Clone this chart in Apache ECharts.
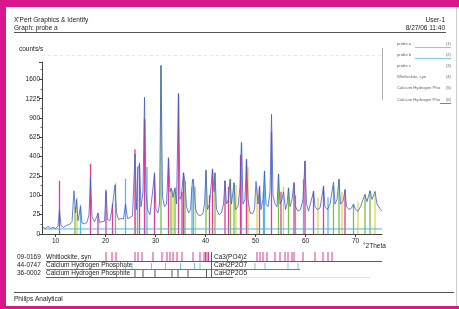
<!DOCTYPE html>
<html>
<head>
<meta charset="utf-8">
<script src="https://cdn.jsdelivr.net/npm/echarts@6/dist/echarts.min.js"></script>
<style>
  html, body { margin: 0; padding: 0; background: #fff; }
  #chart { width: 459px; height: 309px; }
</style>
</head>
<body>
<div id="chart"></div>
<script>
// ── Data (2theta in degrees, intensity in counts/s) ──────────
var yTickValues = [0, 25, 100, 225, 400, 625, 900, 1225, 1600];
var xTickValues = [10, 20, 30, 40, 50, 60, 70];

// measured pattern (blue trace)
var trace = [
  [7.5,3],[8.0,2],[8.5,4],[9.0,2],[9.5,3],[10.0,2],[10.5,4],[10.8,40],[11.1,5],[11.6,3],
  [12.2,5],[12.8,6],[13.3,10],[13.7,125],[14.0,30],[14.2,80],[14.5,12],[15.0,50],[15.3,8],
  [15.8,7],[16.3,9],[16.7,25],[17.0,214],[17.3,20],[17.8,10],[18.2,9],[18.5,28],[18.8,9],
  [19.3,10],[19.8,11],[20.1,120],[20.4,14],[20.9,12],[21.4,55],[21.9,160],[22.2,30],[22.6,14],
  [23.1,16],[23.6,15],[24.0,60],[24.4,16],[24.9,18],[25.4,22],[25.9,430],[26.2,40],[26.5,300],
  [26.8,320],[27.1,50],[27.5,120],[27.8,1250],[28.1,120],[28.4,40],[28.9,25],[29.3,30],
  [29.8,240],[30.1,40],[30.5,30],[30.8,60],[31.1,1900],[31.4,90],[31.8,50],[32.2,60],[32.6,380],
  [32.9,120],[33.2,140],[33.5,90],[33.9,140],[34.2,60],[34.6,1320],[34.9,80],[35.2,100],
  [35.6,250],[35.9,180],[36.2,50],[36.6,30],[37.0,40],[37.4,200],[37.7,150],[38.0,40],[38.5,25],
  [39.0,22],[39.5,30],[39.8,60],[40.1,270],[40.4,40],[40.8,60],[41.4,280],[41.7,120],[41.9,250],
  [42.2,40],[42.7,25],[43.2,30],[43.6,60],[43.9,190],[44.2,60],[44.6,80],[44.9,200],[45.2,60],
  [45.7,175],[46.0,40],[46.5,50],[46.9,150],[47.2,560],[47.5,60],[47.9,80],[48.2,370],[48.5,80],
  [48.9,30],[49.4,28],[49.8,40],[50.1,185],[50.5,60],[50.8,150],[51.1,40],[51.5,80],[51.8,265],
  [52.1,60],[52.5,50],[52.9,120],[53.2,960],[53.5,100],[53.9,60],[54.3,50],[54.6,240],[54.9,60],
  [55.3,80],[55.6,120],[56.0,40],[56.3,60],[56.6,140],[56.9,50],[57.3,80],[57.7,175],[58.0,50],
  [58.5,35],[59.0,40],[59.5,80],[59.9,355],[60.2,60],[60.6,35],[61.0,40],[61.6,120],[61.9,50],
  [62.4,40],[62.9,45],[63.6,150],[63.9,50],[64.4,40],[64.9,60],[65.6,180],[65.9,60],[66.3,80],
  [66.7,200],[67.0,60],[67.5,70],[67.9,130],[68.2,50],[68.7,40],[69.2,45],[69.6,60],[70.0,40],
  [70.5,35],[71.0,50],[71.5,80],[71.9,105],[72.3,70],[72.9,125],[73.3,80],[73.9,120],[74.3,60],
  [74.8,45],[75.3,35]
];

// reference sticks drawn in the plot, by colour
var pinkSticks = [
  [10.8,190],[17.0,330],[18.5,30],[20.1,131],[21.4,62],[25.9,480],[26.8,340],[27.8,890],
  [29.8,253],[32.6,392],[34.6,1320],[35.3,120],[35.6,253],[40.8,100],[41.4,285],[43.9,190],
  [44.6,150],[47.0,420],[48.2,376],[50.8,155],[53.2,700],[55.1,120],[57.7,178],[59.9,360],
  [61.6,125],[63.6,155],[67.9,134]
];
var greenSticks = [
  [13.9,50],[22.0,171],[31.1,1900],[33.1,140],[33.9,145],[35.9,190],[37.6,204],[40.1,276],
  [41.9,253],[45.0,204],[45.7,178],[51.6,120],[54.6,243],[56.6,145],[58.0,100],[65.6,155],
  [66.7,204],[69.6,60],[71.9,106],[72.9,125]
];
var yellowSticks = [
  [14.3,89],[26.0,200],[27.9,860],[33.5,130],[38.0,150],[46.1,160],[48.5,300],[50.3,140],
  [55.6,150],[62.5,90],[67.3,120],[70.5,70],[73.9,125]
];
var cyanSticks = [
  [15.0,57],[24.0,204],[26.4,300],[28.3,300],[37.3,150],[47.2,563],[51.8,268],[59.6,200],[64.5,90]
];
var baselineLevel = 1.7;

// phase reference patterns (tick rows under the plot)
var whitlockiteTicks = [20.1,21.3,22.1,25.9,26.5,27.3,29.5,31.3,32.3,32.9,33.5,34.3,35.3,37.5,38.9,
  39.7,40.0,40.3,40.6,50.3,50.9,51.5,52.3,53.9,54.9,55.9,56.5,57.3,57.7,59.5,61.9,63.5,64.5,65.3];
var phosphateTicks = [24.0,25.3,29.2,32.0,35.0,37.8,38.9,49.9,51.9,56.5,58.5];
var phosphiteTicks = [25.9,27.5,29.9,33.3,34.5,36.5,40.2];

var legendNames = ['probe a', 'probe b', 'probe c', 'Whitlockite, syn',
                   'Calcium Hydrogen Pho', 'Calcium Hydrogen Pho'];

// ── Helpers ─────────────────────────────────────
var MAGENTA = '#d8168d';
var FONT = 'Liberation Sans, Arial, sans-serif';

function sq(arr) {
  return arr.map(function (d) { return [d[0], Math.sqrt(d[1])]; });
}

function stickRenderer(color, width) {
  return function (params, api) {
    var p0 = api.coord([api.value(0), 0]);
    var p1 = api.coord([api.value(0), api.value(1)]);
    return {
      type: 'line',
      shape: { x1: p0[0], y1: p0[1], x2: p1[0], y2: p1[1] },
      style: { stroke: color, lineWidth: width }
    };
  };
}

function rowRenderer(color, top, bottom) {
  return function (params, api) {
    var p0 = api.coord([api.value(0), top]);
    var p1 = api.coord([api.value(0), bottom]);
    return {
      type: 'line',
      shape: { x1: p0[0], y1: p0[1], x2: p1[0], y2: p1[1] },
      style: { stroke: color, lineWidth: 1 }
    };
  };
}

function tx(x, y, s, size, opts) {
  opts = opts || {};
  return {
    type: 'text', silent: true, x: x, y: y,
    style: {
      text: s, fill: opts.color || '#222', font: (size || 6.5) + 'px ' + FONT,
      align: opts.align || 'left', verticalAlign: 'middle'
    }
  };
}
function ln(x1, y1, x2, y2, color, w, dash) {
  return {
    type: 'line', silent: true,
    shape: { x1: x1, y1: y1, x2: x2, y2: y2 },
    style: { stroke: color, lineWidth: w || 1, lineDash: dash || null }
  };
}

// ── Graphic decorations (frame, header, legend, phase labels) ──
var graphics = [
  // magenta frame (right side is only a faint edge)
  { type: 'rect', silent: true, shape: { x: 0, y: 0, width: 459, height: 7 }, style: { fill: MAGENTA } },
  { type: 'rect', silent: true, shape: { x: 0, y: 0, width: 6, height: 309 }, style: { fill: MAGENTA } },
  { type: 'rect', silent: true, shape: { x: 0, y: 306, width: 459, height: 3 }, style: { fill: MAGENTA } },
  ln(456.5, 7, 456.5, 306, '#ccc', 1),

  // header
  tx(14, 20, "X'Pert Graphics & Identify", 6.5),
  tx(14, 28, 'Graph: probe a', 6.5),
  tx(445, 20, 'User-1', 6.5, { align: 'right' }),
  tx(445, 28, '8/27/06 11:40', 6.5, { align: 'right' }),
  ln(14, 32.5, 446, 32.5, '#555', 1),
  tx(19, 49, 'counts/s', 6.5),

  // plot frame hints
  ln(42, 55.5, 382, 55.5, '#e2e2e2', 0.8, [3, 3]),
  ln(382.5, 48, 382.5, 100, '#999', 0.8),
  tx(363, 246, '\u00b02Theta', 6.5),

  // phase rows
  tx(17, 257, '09-0169', 6.5),
  tx(46, 257, 'Whitlockite, syn', 6.5),
  tx(17, 265, '44-0747', 6.5),
  tx(46, 265, 'Calcium Hydrogen Phosphate', 6.5),
  tx(17, 273, '36-0002', 6.5),
  tx(46, 273, 'Calcium Hydrogen Phosphite', 6.5),
  tx(214, 257, 'Ca3(PO4)2', 6.5),
  tx(214, 265, 'CaH2P2O7', 6.5),
  tx(214, 273, 'CaH2P2O5', 6.5),
  ln(211.5, 252, 211.5, 261, '#333', 0.8),
  ln(211.5, 261, 211.5, 269, '#333', 0.8),
  ln(211.5, 269, 211.5, 277, '#333', 0.8),
  ln(46, 261.5, 382, 261.5, '#333', 0.8),
  ln(46, 269.5, 300, 269.5, '#555', 0.8),
  ln(46, 277.5, 233, 277.5, '#333', 0.8),
  ln(233, 277.5, 370, 277.5, '#dcdca8', 0.8),

  // footer
  ln(14, 292.5, 454, 292.5, '#555', 1),
  tx(14, 299, 'Philips Analytical', 6.5)
];

// legend block on the right
var legendY = [44, 55, 66, 77, 88, 100];
var legendLineColors = ['#aaa', '#5bbfd0', null, null, null, '#3b5fc0'];
legendNames.forEach(function (name, i) {
  graphics.push(tx(397, legendY[i], name, 4.2, { color: '#666' }));
  graphics.push(tx(451, legendY[i], '(' + (i + 1) + ')', 4.2, { color: '#666', align: 'right' }));
  if (legendLineColors[i]) {
    graphics.push(ln(i === 5 ? 440 : 415, legendY[i] + 3.5, 451, legendY[i] + 3.5, legendLineColors[i], 0.8));
  }
});

// ── Chart ───────────────────────────────────────
var chart = echarts.init(document.getElementById('chart'), null, { renderer: 'canvas' });

var option = {
  backgroundColor: '#fff',
  animation: false,
  grid: [
    { left: 42, right: 77, top: 62, bottom: 75 },
    { left: 42, right: 77, top: 248, height: 30 }
  ],
  xAxis: [
    {
      type: 'value', gridIndex: 0, min: 7.3, max: 75.3,
      splitLine: { show: false },
      axisLine: { lineStyle: { color: '#444', width: 1 } },
      axisTick: { customValues: xTickValues, length: 3, lineStyle: { color: '#444' } },
      axisLabel: { customValues: xTickValues, fontSize: 6.5, fontFamily: FONT, color: '#222', margin: 4 }
    },
    { type: 'value', gridIndex: 1, min: 7.3, max: 75.3, show: false }
  ],
  yAxis: [
    {
      type: 'value', gridIndex: 0, min: 0, max: 44.5, interval: 5,
      splitLine: { show: false },
      axisLine: { show: true, lineStyle: { color: '#444', width: 1 } },
      axisTick: { show: true, length: 3, lineStyle: { color: '#444' } },
      minorTick: { show: true, splitNumber: 2, length: 1.5, lineStyle: { color: '#666' } },
      axisLabel: {
        fontSize: 6.5, fontFamily: FONT, color: '#222', margin: 2, showMaxLabel: false,
        formatter: function (v) {
          var t = Math.round(v * v);
          return yTickValues.indexOf(t) >= 0 && Math.abs(v - Math.round(v)) < 1e-6 ? String(t) : '';
        }
      }
    },
    { type: 'value', gridIndex: 1, min: 0, max: 30, inverse: true, show: false }
  ],
  series: [
    { type: 'custom', xAxisIndex: 0, yAxisIndex: 0, data: sq(yellowSticks), renderItem: stickRenderer('#e3d350', 1.3), z: 2 },
    { type: 'custom', xAxisIndex: 0, yAxisIndex: 0, data: sq(greenSticks), renderItem: stickRenderer('#7cbf45', 1.3), z: 2 },
    { type: 'custom', xAxisIndex: 0, yAxisIndex: 0, data: sq(cyanSticks), renderItem: stickRenderer('#5ab8e6', 1.3), z: 2 },
    { type: 'custom', xAxisIndex: 0, yAxisIndex: 0, data: sq(pinkSticks), renderItem: stickRenderer('#dc3d98', 1.3), z: 3 },
    {
      type: 'line', xAxisIndex: 0, yAxisIndex: 0,
      data: [[7.6, Math.sqrt(baselineLevel)], [75.3, Math.sqrt(baselineLevel)]],
      showSymbol: false, lineStyle: { color: '#4fb4d8', width: 1 }, z: 4
    },
    {
      type: 'line', xAxisIndex: 0, yAxisIndex: 0, data: sq(trace),
      showSymbol: false, lineStyle: { color: '#4060c8', width: 0.8 }, z: 5
    },
    { type: 'custom', xAxisIndex: 1, yAxisIndex: 1, data: whitlockiteTicks.map(function (x) { return [x]; }),
      renderItem: rowRenderer('#d43c96', 4, 13) },
    { type: 'custom', xAxisIndex: 1, yAxisIndex: 1, data: phosphateTicks.map(function (x) { return [x]; }),
      renderItem: rowRenderer('#7cc3e0', 15, 21) },
    { type: 'custom', xAxisIndex: 1, yAxisIndex: 1, data: phosphiteTicks.map(function (x) { return [x]; }),
      renderItem: rowRenderer('#555', 22, 29) }
  ],
  graphic: graphics
};

chart.setOption(option);
</script>
</body>
</html>
